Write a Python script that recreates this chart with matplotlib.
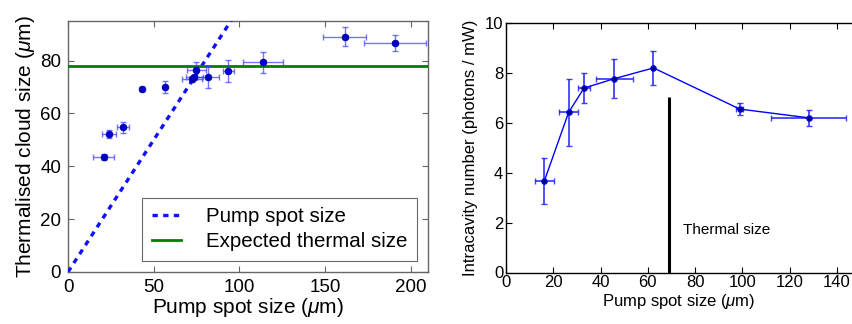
import matplotlib
matplotlib.use("Agg")
import matplotlib.pyplot as plt
import numpy as np

plt.rcParams['font.family'] = ['Liberation Sans', 'DejaVu Sans']
plt.rcParams['mathtext.fontset'] = 'custom'
plt.rcParams['mathtext.rm'] = 'Liberation Sans'
plt.rcParams['mathtext.it'] = 'Liberation Sans:italic'

# Left panel: thermalised cloud size vs pump spot size
pump_left = [20.8, 24.1, 31.9, 43.2, 56.4, 72.2, 73.6, 74.9, 81.8, 93.4, 113.6, 161.5, 190.7]
pump_left_err = [6.3, 4.0, 3.5, 0.8, 0.6, 5.8, 5.0, 5.7, 6.3, 3.2, 11.7, 12.6, 18.0]
cloud = [43.5, 52.1, 54.7, 69.3, 69.9, 73.1, 73.7, 76.6, 73.7, 76.1, 79.4, 89.1, 86.6]
cloud_err = [1.0, 1.5, 2.0, 0.8, 2.3, 1.0, 1.0, 2.8, 4.2, 4.1, 4.0, 3.5, 3.0]
expected_thermal = 78.0
pump_line = [0, 210]

# Right panel: intracavity photon number vs pump spot size
pump_right = [16.2, 26.5, 33.0, 45.9, 62.4, 98.9, 128.0]
pump_right_err = [4.0, 4.0, 2.5, 8.0, 0.0, 1.5, 16.0]
photons = [3.66, 6.42, 7.39, 7.77, 8.20, 6.55, 6.20]
photons_err = [0.92, 1.33, 0.61, 0.79, 0.67, 0.23, 0.33]
thermal_size = 68.9
thermal_top = 7.02

fig = plt.figure(figsize=(8.52, 3.24), dpi=100)

# ---- left axes ----
ax1 = fig.add_axes([68/852, 52/324, 360/852, 251/324])
ax1.plot(pump_line, pump_line, ls=(0, (1.6, 1.6)), color='#1010ff', lw=2.4,
         label='Pump spot size', zorder=3)
ax1.axhline(expected_thermal, color='#008000', lw=2.0,
            label='Expected thermal size', zorder=3)
ax1.errorbar(pump_left, cloud, xerr=pump_left_err, yerr=cloud_err, fmt='none',
             ecolor='#3a3aff', alpha=0.7, elinewidth=1.0, capsize=2.5, capthick=1.0,
             zorder=4)
ax1.plot(pump_left, cloud, 'o', color='#0000cc', ms=4.8, mec='#000099', mew=0.6,
         zorder=5)
ax1.set_xlim(0, 210)
ax1.set_ylim(0, 95)
ax1.set_xticks([0, 50, 100, 150, 200])
ax1.set_yticks([0, 20, 40, 60, 80])
for s in ax1.spines.values():
    s.set_color('#666666')
    s.set_linewidth(1.0)
ax1.tick_params(direction='in', top=True, right=True, length=4, width=0.8,
                color='#666666', labelsize=13.5, pad=5)
ax1.set_xlabel(r'Pump spot size ($\mu$m)', fontsize=15, labelpad=0)
ax1.set_ylabel(r'Thermalised cloud size ($\mu$m)', fontsize=15, labelpad=2)
leg = ax1.legend(loc='lower right', fontsize=14.8, frameon=True, fancybox=False,
                 handlelength=1.45, handletextpad=1.2, borderpad=0.45,
                 borderaxespad=0.55, labelspacing=0.3)
leg.get_frame().set_edgecolor('#444444')
leg.get_frame().set_linewidth(0.8)

# ---- right axes ----
ax2 = fig.add_axes([506/852, 51.5/324, 346/852, 249.5/324])
ax2.errorbar(pump_right, photons, xerr=pump_right_err, yerr=photons_err,
             fmt='none', ecolor='#2020ff', alpha=0.85, elinewidth=1.3,
             capsize=2.5, capthick=1.0, zorder=3)
ax2.plot(pump_right, photons, '-', color='#0000ff', lw=1.0, zorder=4)
ax2.plot(pump_right, photons, 'o', color='#00008b', ms=4, mec='#0000ff', mew=0.7,
         zorder=5)
ax2.vlines(thermal_size, 0, thermal_top, color='black', lw=2.2, zorder=4)
ax2.text(thermal_size + 5.8, 1.71, 'Thermal size', fontsize=11, va='center',
         ha='left')
ax2.set_xlim(0, 146.4)
ax2.set_ylim(0, 10)
ax2.set_xticks([0, 20, 40, 60, 80, 100, 120, 140])
ax2.set_yticks([0, 2, 4, 6, 8, 10])
ax2.spines['right'].set_visible(False)
for s in ['left', 'bottom', 'top']:
    ax2.spines[s].set_linewidth(1.0)
ax2.tick_params(direction='in', top=True, right=False, length=4, width=0.8,
                labelsize=12, pad=2)
ax2.set_xlabel(r'Pump spot size ($\mu$m)', fontsize=12, labelpad=1)
ax2.set_ylabel('Intracavity number (photons / mW)', fontsize=12, labelpad=5)

fig.savefig('out.png', dpi=100)
